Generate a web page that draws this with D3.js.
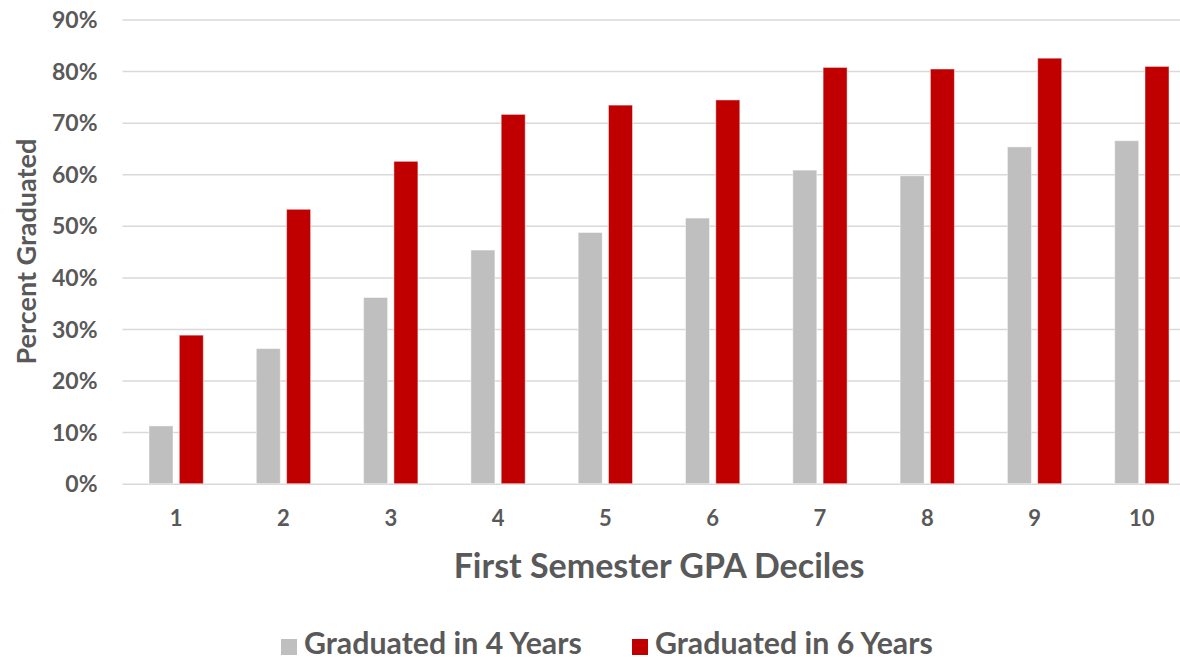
<!DOCTYPE html>
<html><head><meta charset="utf-8">
<script src="https://cdn.jsdelivr.net/npm/d3@7"></script>
<style>body{margin:0;background:#fff}svg{display:block}text{font-family:Lato,"Open Sans",sans-serif;font-weight:700;fill:#595959}</style>
</head><body><svg id="c" width="1180" height="661"></svg>
<script>
const categories = ["1","2","3","4","5","6","7","8","9","10"];
const series = ["Graduated in 4 Years","Graduated in 6 Years"];
const grad4 = [11.2, 26.2, 36.1, 45.3, 48.7, 51.5, 60.8, 59.7, 65.3, 66.5];
const grad6 = [28.8, 53.2, 62.5, 71.6, 73.4, 74.4, 80.7, 80.4, 82.5, 80.9];
const yTicks = [0,10,20,30,40,50,60,70,80,90];
const colors = ["#bfbfbf","#c00000"];
const xTitle = "First Semester GPA Deciles";
const yTitle = "Percent Graduated";

const svg = d3.select("#c");
const L = 122.5, R = 1195.5, T = 19.5, B = 483.7;
const x0 = d3.scaleBand().domain(categories).range([L,R]).paddingInner(0.494).paddingOuter(0.247);
const x1 = d3.scaleBand().domain(series).range([0,x0.bandwidth()]).paddingInner(0.208);
const y = d3.scaleLinear().domain([0,90]).range([B,T]);

// gridlines
const yAxis = d3.axisLeft(y).tickValues(yTicks).tickSize(-(R-L)).tickFormat(d=>d+"%").tickPadding(25);
const gy = svg.append("g").attr("transform",`translate(${L},0)`).call(yAxis);
gy.select(".domain").remove();
gy.selectAll(".tick line").attr("stroke","#d9d9d9").attr("stroke-width",1.5);
gy.selectAll(".tick text").attr("font-size",23).style("fill","#595959").attr("dy","0.35em");

// x axis
const xAxis = d3.axisBottom(x0).tickSize(0).tickPadding(27);
const gx = svg.append("g").attr("transform",`translate(0,${B})`).call(xAxis);
gx.select(".domain").remove();
gx.selectAll(".tick text").attr("font-size",22).style("fill","#595959");

const data = categories.map((c,i)=>({c, vals:[grad4[i],grad6[i]]}));
svg.append("g").selectAll("g").data(data).join("g")
  .attr("transform",d=>`translate(${x0(d.c)},0)`)
  .selectAll("rect").data(d=>d.vals.map((v,j)=>({s:series[j],v,j}))).join("rect")
  .attr("x",d=>x1(d.s)).attr("width",x1.bandwidth())
  .attr("y",d=>y(d.v)).attr("height",d=>B-y(d.v))
  .attr("fill",d=>colors[d.j]).attr("stroke","rgba(255,255,255,0.45)").attr("stroke-width",1);

// titles
svg.append("text").attr("x",(L+R)/2).attr("y",578).attr("text-anchor","middle").attr("font-size",34).text(xTitle);
svg.append("text").attr("transform",`translate(36,${(T+B)/2}) rotate(-90)`).attr("text-anchor","middle").attr("font-size",27).text(yTitle);

// legend
const lx = [281, 632];
series.forEach((s,i)=>{
  svg.append("rect").attr("x",lx[i]).attr("y",639).attr("width",16).attr("height",16).attr("fill",colors[i]);
  svg.append("text").attr("x",lx[i]+23).attr("y",654).attr("font-size",30.3).text(s);
});
</script></body></html>
